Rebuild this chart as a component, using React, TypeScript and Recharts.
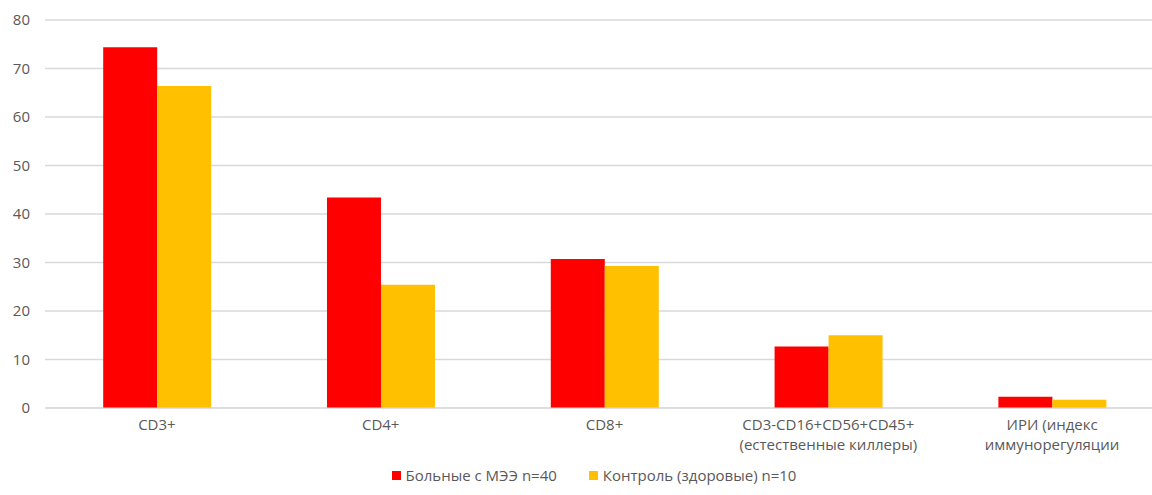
import React from "react"
import { BarChart, Bar, XAxis, YAxis, CartesianGrid, Legend } from "recharts"

const categories = [
  "CD3+",
  "CD4+",
  "CD8+",
  "CD3-CD16+CD56+CD45+\n(естественные киллеры)",
  "ИРИ (индекс\nиммунорегуляции",
]
const patients = [74.4, 43.4, 30.7, 12.7, 2.3]
const controls = [66.4, 25.4, 29.3, 15.0, 1.7]
const yTicks = [0, 10, 20, 30, 40, 50, 60, 70, 80]

const seriesNames = ["Больные с МЭЭ n=40", "Контроль (здоровые) n=10"]
const colors = ["#FF0000", "#FFC000"]

const data = categories.map((name, i) => ({ name, a: patients[i], b: controls[i] }))

const FONT = "'Open Sans', 'DejaVu Sans', sans-serif"

// подписи категорий в две строки
const CategoryTick = (props: any) => {
  const { x, y, payload } = props
  const lines = String(payload.value).split("\n")
  return (
    <text x={x} y={y} textAnchor="middle" fill="#595959" fontSize={15} fontFamily={FONT}>
      {lines.map((l, i) => (
        <tspan key={i} x={x} dy={i === 0 ? 14 : 20}>{l}</tspan>
      ))}
    </text>
  )
}

const LegendBox = () => (
  <div style={{ display: "flex", justifyContent: "center", gap: 32, paddingLeft: 24, fontFamily: FONT, fontSize: 15, color: "#595959" }}>
    {seriesNames.map((s, i) => (
      <div key={s} style={{ display: "flex", alignItems: "center" }}>
        <span style={{ width: 9, height: 9, background: colors[i], marginRight: 5, display: "inline-block" }} />
        {s}
      </div>
    ))}
  </div>
)

export default function App() {
  return (
    <div style={{ width: 1152, height: 495, overflow: "hidden", background: "#fff" }}>
      <style>{"html,body{margin:0;padding:0;overflow:hidden;}"}</style>
      <BarChart
        width={1152}
        height={495}
        data={data}
        margin={{ top: 20, right: -12, bottom: 0, left: 0 }}
        barCategoryGap="26%"
        barGap={0}
      >
        <CartesianGrid vertical={false} stroke="#D9D9D9" strokeWidth={1.5} />
        <XAxis
          dataKey="name"
          tick={<CategoryTick />}
          tickLine={false}
          axisLine={{ stroke: "#D9D9D9" }}
          height={57}
          interval={0}
        />
        <YAxis
          width={45}
          domain={[0, 80]}
          ticks={yTicks}
          tickLine={false}
          axisLine={false}
          tickMargin={9}
          tick={{ fill: "#595959", fontSize: 15, fontFamily: FONT }}
        />
        <Legend verticalAlign="bottom" height={30} content={<LegendBox />} />
        <Bar dataKey="a" name={seriesNames[0]} fill={colors[0]} isAnimationActive={false} />
        <Bar dataKey="b" name={seriesNames[1]} fill={colors[1]} isAnimationActive={false} />
      </BarChart>
    </div>
  )
}
